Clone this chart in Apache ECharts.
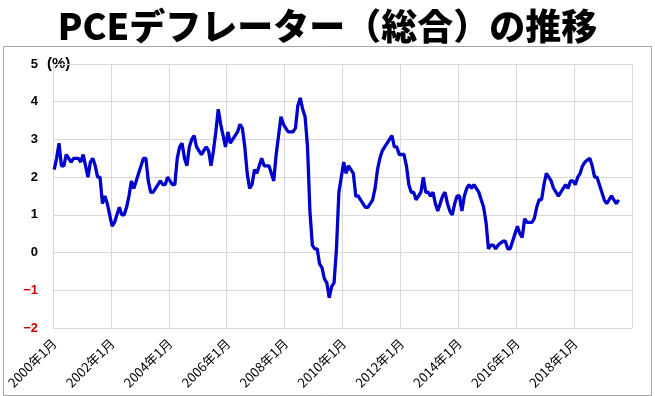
<!DOCTYPE html>
<html><head><meta charset="utf-8">
<script src="https://cdn.jsdelivr.net/npm/echarts@6/dist/echarts.min.js"></script>
<style>html,body{margin:0;padding:0;background:#fff}#c{width:655px;height:396px}</style>
</head><body><div id="c"></div>
<script>
const titleText = 'PCEデフレーター（総合）の推移';
const unitText = '(%)';
const startYear = 2000, endYear = 2019;
const yMin = -2, yMax = 5, yStep = 1;

const pce2000 = [2.2, 2.5, 2.9, 2.3, 2.3, 2.6, 2.5, 2.4, 2.5, 2.5, 2.5, 2.4];
const pce2001 = [2.6, 2.3, 2.0, 2.4, 2.5, 2.3, 2.0, 2.0, 1.3, 1.5, 1.3, 1.0];
const pce2002 = [0.7, 0.8, 1.0, 1.2, 1.0, 1.0, 1.2, 1.5, 1.9, 1.7, 1.9, 2.1];
const pce2003 = [2.3, 2.5, 2.5, 1.9, 1.6, 1.6, 1.7, 1.8, 1.9, 1.8, 1.8, 2.0];
const pce2004 = [1.9, 1.8, 1.8, 2.5, 2.8, 2.9, 2.5, 2.3, 2.8, 3.0, 3.1, 2.8];
const pce2005 = [2.7, 2.6, 2.7, 2.8, 2.7, 2.3, 2.7, 3.2, 3.8, 3.4, 3.1, 2.8];
const pce2006 = [3.2, 2.9, 3.0, 3.1, 3.2, 3.4, 3.3, 2.8, 2.1, 1.7, 1.8, 2.2];
const pce2007 = [2.1, 2.3, 2.5, 2.3, 2.3, 2.3, 2.1, 1.9, 2.6, 3.1, 3.6, 3.4];
const pce2008 = [3.3, 3.2, 3.2, 3.2, 3.3, 3.9, 4.1, 3.8, 3.6, 2.8, 1.1, 0.2];
const pce2009 = [0.1, 0.1, -0.3, -0.4, -0.7, -0.8, -1.2, -0.9, -0.8, 0.1, 1.6, 2.0];
const pce2010 = [2.4, 2.1, 2.3, 2.2, 2.1, 1.5, 1.5, 1.4, 1.3, 1.2, 1.2, 1.3];
const pce2011 = [1.4, 1.7, 2.2, 2.5, 2.7, 2.8, 2.9, 3.0, 3.1, 2.8, 2.8, 2.6];
const pce2012 = [2.6, 2.6, 2.3, 1.8, 1.6, 1.6, 1.4, 1.5, 1.6, 2.0, 1.6, 1.6];
const pce2013 = [1.5, 1.6, 1.3, 1.1, 1.3, 1.5, 1.6, 1.3, 1.1, 1.0, 1.3, 1.5];
const pce2014 = [1.5, 1.1, 1.5, 1.7, 1.8, 1.7, 1.8, 1.7, 1.6, 1.4, 1.2, 0.8];
const pce2015 = [0.1, 0.2, 0.2, 0.1, 0.2, 0.25, 0.3, 0.3, 0.1, 0.1, 0.3, 0.5];
const pce2016 = [0.7, 0.5, 0.4, 0.9, 0.8, 0.8, 0.8, 0.9, 1.2, 1.4, 1.4, 1.8];
const pce2017 = [2.1, 2.0, 1.9, 1.7, 1.6, 1.5, 1.6, 1.7, 1.8, 1.7, 1.9, 1.9];
const pce2018 = [1.8, 2.0, 2.1, 2.3, 2.4, 2.45, 2.5, 2.3, 2.0, 2.0, 1.8, 1.6];
const pce2019 = [1.4, 1.3, 1.4, 1.5, 1.4, 1.3, 1.4];

const categories = [];
for (let y = startYear; y <= endYear; y++) {
  for (let m = 1; m <= 12; m++) categories.push(y + '年' + m + '月');
}
const values = [].concat(pce2000, pce2001, pce2002, pce2003, pce2004, pce2005, pce2006,
  pce2007, pce2008, pce2009, pce2010, pce2011, pce2012, pce2013, pce2014, pce2015,
  pce2016, pce2017, pce2018, pce2019);

const gridColor = '#d9d9d9';
const chart = echarts.init(document.getElementById('c'), null, {renderer: 'canvas'});
chart.setOption({
  animation: false,
  backgroundColor: '#fff',
  title: {
    text: titleText, left: 'center', top: 3,
    textStyle: {fontFamily: 'Noto Sans CJK JP', fontWeight: 900, fontSize: 36, color: '#000'}
  },
  grid: {left: 53, right: 23, top: 64, bottom: 68},
  xAxis: {
    type: 'category', data: categories, boundaryGap: true,
    axisLine: {show: true, lineStyle: {color: gridColor}},
    axisTick: {show: true, interval: 23, length: 4, lineStyle: {color: gridColor}},
    axisLabel: {interval: 23, rotate: 45, margin: 13, fontSize: 13, color: '#000', fontFamily: 'Noto Sans CJK JP'},
    splitLine: {show: true, interval: 23, lineStyle: {color: gridColor}}
  },
  yAxis: {
    type: 'value', min: yMin, max: yMax, interval: yStep,
    axisLine: {show: true, lineStyle: {color: gridColor}},
    axisTick: {show: false},
    axisLabel: {
      margin: 15, fontSize: 13, fontWeight: 'bold', fontFamily: 'Liberation Sans',
      color: function (v) { return Number(v) < 0 ? '#cc0000' : '#000'; },
      formatter: function (v) { return v < 0 ? '\u2212' + Math.abs(v) : String(v); }
    },
    splitLine: {show: true, lineStyle: {color: gridColor}}
  },
  series: [{
    type: 'line', data: values, symbol: 'none', showSymbol: false,
    lineStyle: {color: '#0000cc', width: 3.3}, itemStyle: {color: '#0000cc'}
  }],
  graphic: [
    {type: 'rect', shape: {x: 3.5, y: 46.5, width: 648, height: 349}, style: {fill: null, stroke: '#a6a6a6', lineWidth: 1}, silent: true},
    {type: 'text', x: 47, y: 64, style: {text: unitText, fontSize: 15, fontWeight: 'bold', fontFamily: 'Liberation Sans', fill: '#000', verticalAlign: 'middle', align: 'left'}}
  ]
});
</script></body></html>
